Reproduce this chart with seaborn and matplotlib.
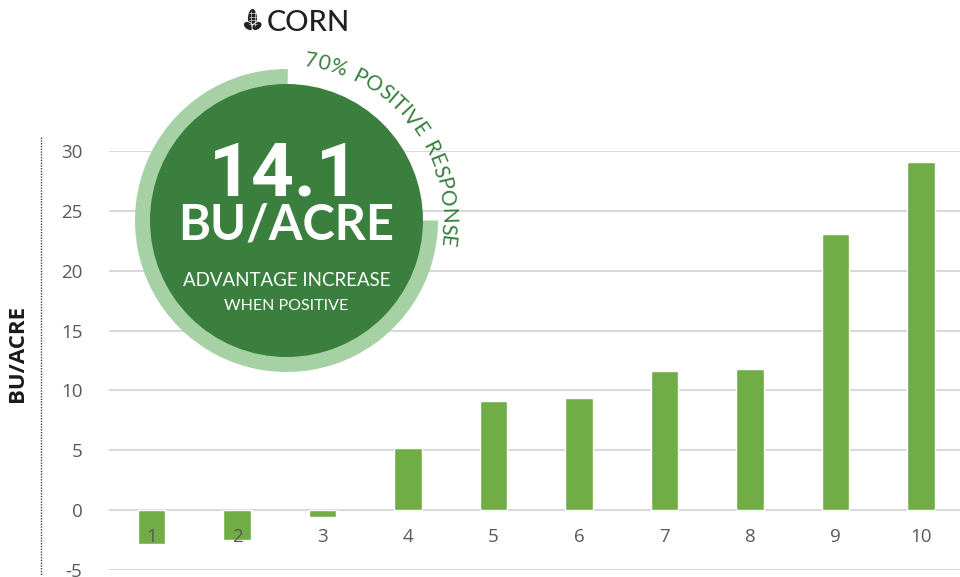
import numpy as np
import pandas as pd
import matplotlib
matplotlib.use("Agg")
import matplotlib.pyplot as plt
from matplotlib.patches import Circle, Wedge, Ellipse
from matplotlib.textpath import TextPath
from matplotlib.font_manager import FontProperties
import seaborn as sns

categories = ["1", "2", "3", "4", "5", "6", "7", "8", "9", "10"]
values = [-2.8, -2.5, -0.6, 5.15, 9.15, 9.35, 11.65, 11.75, 23.05, 29.05]
y_ticks = [-5, 0, 5, 10, 15, 20, 25, 30]
headline = "14.1"
unit = "BU/ACRE"
line1 = "ADVANTAGE INCREASE"
line2 = "WHEN POSITIVE"
arc_label = "70% POSITIVE RESPONSE"
crop = "CORN"
share_sweep = 270

W, H = 960, 577
BAR = "#70AD47"
DARK = "#3A7F3E"
RING = "#A5D1A5"
GRID = "#D9D9D9"
TICK = "#595959"
DISPLAY = "Lato"

sns.set_theme(style="white")
plt.rcParams["font.family"] = ["Open Sans", "DejaVu Sans"]
plt.rcParams["axes.unicode_minus"] = False

fig = plt.figure(figsize=(W / 100, H / 100), dpi=100)
left, right, top, bottom = 108.7, 963.7, 151, 570
ax = fig.add_axes([left / W, 1 - bottom / H, (right - left) / W, (bottom - top) / H])
df = pd.DataFrame({"cat": categories, "val": values})
sns.barplot(data=df, x="cat", y="val", color=BAR, saturation=1, width=0.32, ax=ax, zorder=3)
ax.set_xlim(-0.5, 9.5)
ax.set_ylim(-5, 30)
ax.set_yticks(y_ticks)
ax.set_xlabel("")
ax.set_ylabel("")
ax.set_axisbelow(True)
ax.xaxis.set_zorder(5)
ax.yaxis.grid(True, color=GRID, lw=1.5)
ax.xaxis.grid(False)
sns.despine(ax=ax, left=True, bottom=True, top=True, right=True)
ax.tick_params(axis="y", length=0, pad=19, labelsize=13.5, labelcolor=TICK)
ax.tick_params(axis="x", length=0, pad=-30, labelsize=13.5, labelcolor=TICK)
for lab in ax.get_yticklabels():
    lab.set_verticalalignment("center_baseline")

ov = fig.add_axes([0, 0, 1, 1], zorder=10)
ov.set_xlim(0, W)
ov.set_ylim(H, 0)
ov.axis("off")
ov.patch.set_alpha(0)

cx, cy = 286.5, 220.5
ov.add_patch(Wedge((cx, cy), 151.5, -90 - share_sweep, -90 + 0.5, width=20, fc=RING, ec="none"))
ov.add_patch(Circle((cx, cy), 136.5, fc=DARK, ec="none"))

ov.text(284, 195, headline, family="Roboto", weight="bold", fontsize=54, color="white", ha="center", va="baseline")
ov.text(286.5, 240, unit, family=DISPLAY, weight="bold", fontsize=35, color="white", ha="center", va="baseline")
ov.text(286.5, 286, line1, family=DISPLAY, fontsize=13.4, color="white", ha="center", va="baseline")
ov.text(286.5, 310, line2, family=DISPLAY, fontsize=11.5, color="white", ha="center", va="baseline")

# text on arc
fp = FontProperties(family=DISPLAY, size=15)
R = 155
start, end = np.radians(6.5), np.radians(99.5)
def adv(s):
    return TextPath((0, 0), s, prop=fp).get_extents().x1 if s.strip() else TextPath((0, 0), "n", prop=fp).get_extents().x1 * 0.7
widths = [adv(c) for c in arc_label]
total = sum(widths)
pos = 0
for c, w_ in zip(arc_label, widths):
    t = start + (end - start) * (pos + w_ / 2) / total
    x = cx + R * np.sin(t)
    y = cy - R * np.cos(t)
    ov.text(x, y, c, family=DISPLAY, fontsize=15, color=DARK, rotation=-np.degrees(t),
            rotation_mode="anchor", ha="center", va="baseline")
    pos += w_

# crop title with small cob icon
ov.text(267, 31, crop, family=DISPLAY, weight="medium", fontsize=21, color="#231F20", ha="left", va="baseline")
ov.add_patch(Ellipse((252.5, 18.5), 9, 19, fc="#231F20", ec="none"))
for k in range(4):
    ov.plot([248.5, 256.5], [13 + 3.5 * k] * 2, color="white", lw=0.4)
for xx in (250.5, 254.5):
    ov.plot([xx, xx], [11, 26], color="white", lw=0.4)
ov.add_patch(Ellipse((248.5, 26), 11, 7.5, angle=35, fc="#231F20", ec="white", lw=0.6))
ov.add_patch(Ellipse((257, 26), 11, 7.5, angle=-35, fc="#231F20", ec="white", lw=0.6))

# y title and dotted rule
ov.text(18, 353.5, "BU/ACRE", family="Open Sans", weight="bold", fontsize=16, color="#1A1A1A",
        rotation=90, ha="center", va="center")
ov.plot([41, 41], [137, 575], color="#404040", lw=1, ls=(0, (1, 1)))

fig.savefig("out.png", dpi=100)
